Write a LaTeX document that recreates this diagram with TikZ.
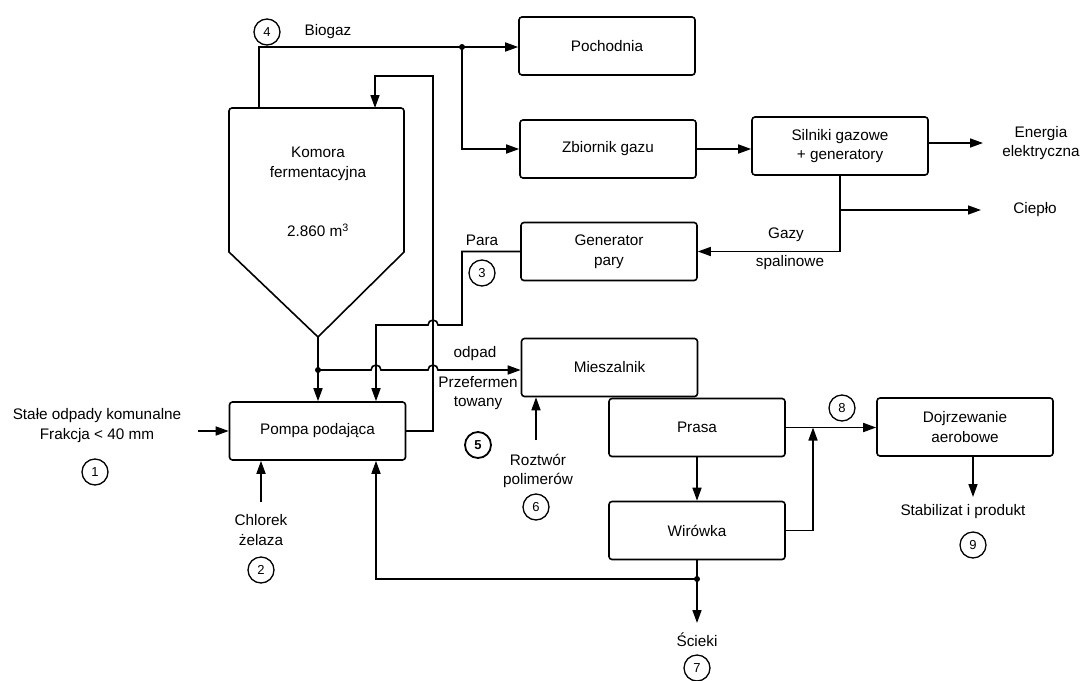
\documentclass[tikz,border=0pt]{standalone}
\usepackage{fontspec}
\setmainfont{Liberation Sans}
\usetikzlibrary{arrows.meta}
\begin{document}
\begin{tikzpicture}[x=1pt,y=-1pt,
  line width=1.6pt,
  every node/.style={font=\fontsize{15.3}{19.5}\selectfont},
  box/.style={draw, rounded corners=3pt, minimum width=176pt, minimum height=58pt, inner sep=0pt, align=center},
  num/.style={draw, circle, line width=1.3pt, minimum size=26pt, inner sep=0pt, font=\fontsize{13}{13}\selectfont},
  lbl/.style={align=center, inner sep=0pt},
  arr/.style={-{Triangle[length=13pt,width=9pt]}},
  dot/.style={circle, fill, inner sep=0pt, minimum size=6pt}
]
\fill[white] (0,0) rectangle (1083,680);
\useasboundingbox (0,0) rectangle (1083,680);

% boxes
\node[box] (poch)    at (607,46)    {Pochodnia};
\node[box] (zbior)   at (608,149)   {Zbiornik gazu};
\node[box] (silniki) at (840,146)   {Silniki gazowe\\+ generatory};
\node[box] (genpary) at (609,251.5) {Generator\\pary};
\node[box] (miesz)   at (609.5,367.5) {Mieszalnik};
\node[box] (prasa)   at (697,427.5) {Prasa};
\node[box] (wirowka) at (697,530.5) {Wirówka};
\node[box] (dojrz)   at (965,427)   {Dojrzewanie\\aerobowe};
\node[box] (pompa)   at (317.5,431) {Pompa podająca};

% fermentation chamber
\draw (229,252) [rounded corners=3pt] -- (229,108) -- (404,108) [sharp corners] -- (404,252) -- (318,337) -- cycle;
\node[lbl] (komtxt) at (318,164) {Komora\\fermentacyjna};
\node[lbl] (komvol) at (318,230) {2.860 m\textsuperscript{3}};
\coordinate (kb)   at (259,108);
\coordinate (kin)  at (375,108);
\coordinate (ktip) at (318,337);

% biogas
\coordinate (j1) at (462,47);
\draw (kb) |- (j1);
\draw[arr] (j1) -- (poch.west |- j1);
\draw[arr] (j1) |- (zbior.west);
\node[dot] (d1) at (j1) {};
\draw[arr] (zbior.east) -- (silniki.west |- zbior.east);
\coordinate (eE) at (983,143);
\draw[arr] (silniki.east |- eE) -- (eE);
\draw[arr] (silniki.south) |- (genpary.east);
\coordinate (cS) at (840,210);
\coordinate (cE) at (981,210);
\draw[arr] (cS) -- (cE);

% steam
\coordinate (pA) at (462,325);
\coordinate (pJ) at (438,325);
\coordinate (pB) at (376,325);
\draw[arr] (genpary.west) -| (pA) -- (pJ) arc (0:-180:5) -- (pB) -- (pB |- pompa.north);

% return from pump to chamber
\coordinate (rT) at (433,76);
\draw[arr] (pompa.east) -| (rT) -| (kin);

% chamber output
\coordinate (d2c) at (318,370);
\coordinate (jA) at (371,370);
\coordinate (jB) at (428,370);
\draw[arr] (ktip) -- (ktip |- pompa.north);
\draw[arr] (d2c) -- (jA) arc (180:360:5) -- (jB) arc (180:360:5) -- (miesz.west |- d2c);
\node[dot] (d2) at (d2c) {};

% inputs
\coordinate (in1) at (198,431);
\draw[arr] (in1) -- (pompa.west);
\coordinate (ch) at (261,502);
\draw[arr] (ch) -- (ch |- pompa.south);
\coordinate (rz) at (536,440);
\draw[arr] (rz) -- (rz |- miesz.south);

% press, centrifuge
\draw[arr] (prasa.south) -- (wirowka.north);
\coordinate (sc) at (697,623);
\coordinate (d3c) at (697,579);
\draw[arr] (wirowka.south) -- (sc);
\draw[arr] (d3c) -| (pB |- pompa.south);
\node[dot] (d3) at (d3c) {};
\draw[arr] (prasa.east) -- (dojrz.west |- prasa.east);
\coordinate (j8) at (813,427.5);
\draw[arr] (wirowka.east) -| (j8);
\coordinate (dB) at (973,497);
\draw[arr] (dB |- dojrz.south) -- (dB);

% labels
\node[lbl] (tbio) at (328,32) {Biogaz};
\node[num] (n4) at (267,32) {4};
\node[lbl] (tpara) at (482,240) {Para};
\node[num] (n3) at (482,273) {3};
\node[lbl] (todp) at (475,354) {odpad};
\node[lbl] (tprz) at (478,393) {Przefermen\\towany};
\node[num, line width=1.8pt, font=\fontsize{13}{13}\bfseries] (n5) at (478,445) {5};
\node[lbl] (troz) at (538,471) {Roztwór\\polimerów};
\node[num] (n6) at (536,507) {6};
\node[lbl] (tsta) at (97,425.5) {Stałe odpady komunalne\\Frakcja < 40 mm};
\node[num] (n1) at (95,472) {1};
\node[lbl] (tchl) at (261,530) {Chlorek\\żelaza};
\node[num] (n2) at (261,570) {2};
\node[lbl] (tsci) at (697,640) {Ścieki};
\node[num] (n7) at (697,668) {7};
\node[num] (n8) at (842,408) {8};
\node[lbl] (tstab) at (963,512) {Stabilizat i produkt};
\node[num] (n9) at (973,545) {9};
\node[lbl] (tgazy) at (786,235) {Gazy};
\node[lbl] (tspal) at (790,263) {spalinowe};
\node[lbl] (tener) at (1041,143) {Energia\\elektryczna};
\node[lbl] (tciep) at (1035,210) {Ciepło};
\end{tikzpicture}
\end{document}
